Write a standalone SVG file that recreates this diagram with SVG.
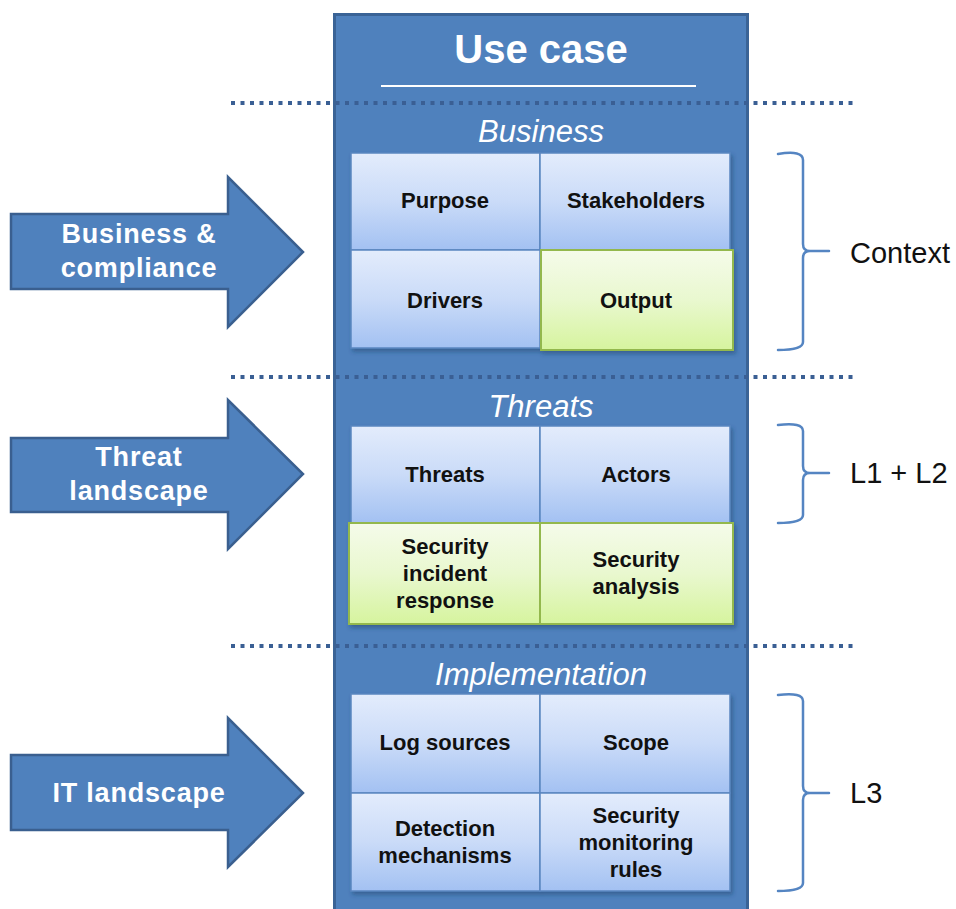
<svg xmlns="http://www.w3.org/2000/svg" width="956" height="909" viewBox="0 0 956 909">
  <defs>
    <linearGradient id="gBlue" x1="0" y1="0" x2="0" y2="1">
      <stop offset="0" stop-color="#E3ECFC"/>
      <stop offset="0.5" stop-color="#CADBF8"/>
      <stop offset="1" stop-color="#A3C1F2"/>
    </linearGradient>
    <linearGradient id="gGreen" x1="0" y1="0" x2="0" y2="1">
      <stop offset="0" stop-color="#F5FBEA"/>
      <stop offset="0.5" stop-color="#E9F8CF"/>
      <stop offset="1" stop-color="#D6F49E"/>
    </linearGradient>
    <filter id="sh" x="-10%" y="-10%" width="120%" height="120%">
      <feDropShadow dx="2" dy="3" stdDeviation="2" flood-color="#1F3A60" flood-opacity="0.45"/>
    </filter>
    <style>
      .main{fill:#4F81BD;stroke:#3A6396;stroke-width:3}
      .arrow{fill:#4F81BD;stroke:#3A5F8F;stroke-width:2.5;stroke-linejoin:miter}
      .cb{fill:url(#gBlue);stroke:#5A86C0;stroke-width:1.5}
      .cg{fill:url(#gGreen);stroke:#93B84E;stroke-width:2}
      .dots{stroke:#3A5F94;stroke-width:4;stroke-dasharray:4 5.5;fill:none}
      .brace{fill:none;stroke:#5585C2;stroke-width:2.5;stroke-linecap:round;stroke-linejoin:round}
      .title{font-family:"Liberation Sans",Arial,sans-serif;font-weight:bold;font-size:40px;fill:#FFFFFF;text-anchor:middle}
      .sec{font-family:"Liberation Sans",Arial,sans-serif;font-style:italic;font-size:31px;fill:#FFFFFF;text-anchor:middle}
      .cell{font-family:"Liberation Sans",Arial,sans-serif;font-weight:bold;font-size:22px;fill:#111111;text-anchor:middle}
      .atext{font-family:"Liberation Sans",Arial,sans-serif;font-weight:bold;font-size:27px;letter-spacing:0.8px;fill:#FFFFFF;text-anchor:middle}
      .rtext{font-family:"Liberation Sans",Arial,sans-serif;font-size:29px;fill:#111111}
    </style>
  </defs>

  <!-- Main use case panel -->
  <g id="use-case">
    <rect class="main" x="334.5" y="14.5" width="413" height="900"/>
    <text class="title" x="541" y="63">Use case</text>
    <line x1="381" y1="86" x2="696" y2="86" stroke="#FFFFFF" stroke-width="2"/>
  </g>

  <!-- Dotted separators -->
  <g id="separators">
    <line class="dots" x1="231" y1="103" x2="858" y2="103"/>
    <line class="dots" x1="231" y1="377" x2="858" y2="377"/>
    <line class="dots" x1="231" y1="646" x2="858" y2="646"/>
  </g>

  <!-- Business section -->
  <g id="business">
    <text class="sec" x="541" y="142">Business</text>
    <g filter="url(#sh)">
      <rect class="cb" x="351" y="153" width="189" height="97"/>
      <rect class="cb" x="540" y="153" width="190" height="97"/>
      <rect class="cb" x="351" y="250" width="189" height="98"/>
      <rect class="cg" x="541" y="250" width="192" height="100"/>
    </g>
    <g id="purpose"><text class="cell" x="445" y="208">Purpose</text></g>
    <g id="stakeholders"><text class="cell" x="636" y="208">Stakeholders</text></g>
    <g id="drivers"><text class="cell" x="445" y="308">Drivers</text></g>
    <g id="output"><text class="cell" x="636" y="308">Output</text></g>
  </g>

  <!-- Threats section -->
  <g id="threats-section">
    <text class="sec" x="541" y="417">Threats</text>
    <g filter="url(#sh)">
      <rect class="cb" x="351" y="426" width="189" height="97"/>
      <rect class="cb" x="540" y="426" width="190" height="97"/>
      <rect class="cg" x="349" y="523" width="191" height="101"/>
      <rect class="cg" x="540" y="523" width="193" height="101"/>
    </g>
    <g id="threats"><text class="cell" x="445" y="482">Threats</text></g>
    <g id="actors"><text class="cell" x="636" y="482">Actors</text></g>
    <g id="incident-response">
      <text class="cell" x="445" y="554">Security</text>
      <text class="cell" x="445" y="581">incident</text>
      <text class="cell" x="445" y="608">response</text>
    </g>
    <g id="security-analysis">
      <text class="cell" x="636" y="567">Security</text>
      <text class="cell" x="636" y="594">analysis</text>
    </g>
  </g>

  <!-- Implementation section -->
  <g id="implementation">
    <text class="sec" x="541" y="685">Implementation</text>
    <g filter="url(#sh)">
      <rect class="cb" x="351" y="694" width="189" height="99"/>
      <rect class="cb" x="540" y="694" width="190" height="99"/>
      <rect class="cb" x="351" y="793" width="189" height="98"/>
      <rect class="cb" x="540" y="793" width="190" height="98"/>
    </g>
    <g id="log-sources"><text class="cell" x="445" y="750">Log sources</text></g>
    <g id="scope"><text class="cell" x="636" y="750">Scope</text></g>
    <g id="detection">
      <text class="cell" x="445" y="836">Detection</text>
      <text class="cell" x="445" y="863">mechanisms</text>
    </g>
    <g id="rules">
      <text class="cell" x="636" y="823">Security</text>
      <text class="cell" x="636" y="850">monitoring</text>
      <text class="cell" x="636" y="877">rules</text>
    </g>
  </g>

  <!-- Input arrows -->
  <g id="arrow-business">
    <polygon class="arrow" points="11,214 228,214 228,177 303,252 228,327 228,289 11,289"/>
    <text class="atext" x="139" y="243">Business &amp;</text>
    <text class="atext" x="139" y="277">compliance</text>
  </g>
  <g id="arrow-threat">
    <polygon class="arrow" points="11,438 228,438 228,400 303,474 228,549 228,512 11,512"/>
    <text class="atext" x="139" y="466">Threat</text>
    <text class="atext" x="139" y="500">landscape</text>
  </g>
  <g id="arrow-it">
    <polygon class="arrow" points="11,755 228,755 228,718 303,793 228,867 228,830 11,830"/>
    <text class="atext" x="139" y="802">IT landscape</text>
  </g>

  <!-- Right-side braces and labels -->
  <g id="brace-context">
    <path class="brace" d="M778,154 Q803,150 803,160 L803,244 Q803,251 810,251 L829,251 M810,251 Q803,251 803,258 L803,342 Q803,350 778,350"/>
    <text class="rtext" x="850" y="263">Context</text>
  </g>
  <g id="brace-l1l2">
    <path class="brace" d="M778,425 Q803,422 803,431 L803,466 Q803,473 810,473 L829,473 M810,473 Q803,473 803,480 L803,515 Q803,523 778,523"/>
    <text class="rtext" x="850" y="483">L1 + L2</text>
  </g>
  <g id="brace-l3">
    <path class="brace" d="M778,695 Q803,692 803,701 L803,786 Q803,793 810,793 L829,793 M810,793 Q803,793 803,800 L803,883 Q803,891 778,891"/>
    <text class="rtext" x="850" y="803">L3</text>
  </g>
</svg>
